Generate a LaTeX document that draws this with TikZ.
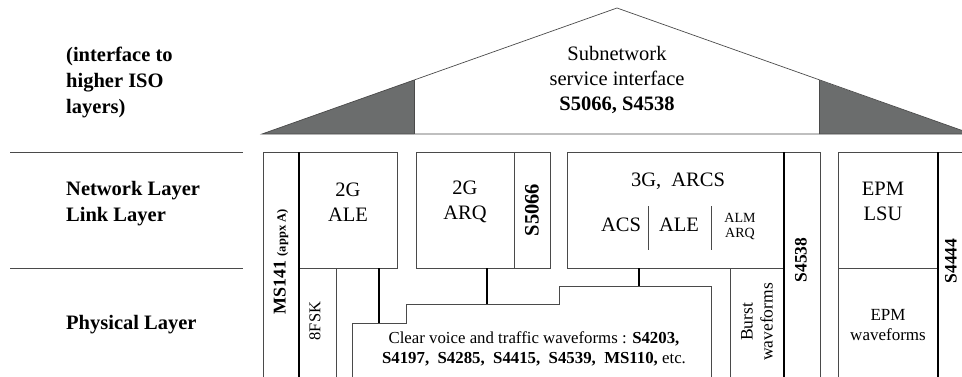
\documentclass[tikz,border=0pt]{standalone}
\usepackage{fontspec}
\setmainfont{Liberation Serif}
\usetikzlibrary{positioning}
\definecolor{roofgray}{HTML}{6B6D6D}
\definecolor{linegray}{HTML}{4A4A4A}

\begin{document}
\begin{tikzpicture}[x=1pt,y=-1pt,
    box/.style={draw=linegray,line width=0.6pt,inner sep=0pt,outer sep=0pt},
    bar/.style={draw=black,line width=1.3pt},
    link/.style={draw=black,line width=1.9pt},
    lbl/.style={font=\fontsize{20.5}{25}\selectfont,align=center,inner sep=0pt},
    small/.style={font=\fontsize{16.8}{19.5}\selectfont,align=center,inner sep=0pt},
    side/.style={font=\bfseries\fontsize{20.5}{26}\selectfont,align=left,anchor=west,inner sep=0pt}]
    \useasboundingbox (0,0) rectangle (962,376);

    % roof
    \fill[roofgray] (262,134) -- (414,80) -- (414,134) -- cycle;
    \fill[roofgray] (819,80) -- (972,134) -- (819,134) -- cycle;
    \draw[linegray,line width=0.7pt] (262,134) -- (617,8) -- (972,134) -- cycle;
    \draw[linegray,line width=0.7pt] (414,80) -- (414,134) (819,80) -- (819,134);
    \node[lbl] (sni) at (617,80) {Subnetwork\\service interface\\\textbf{S5066, S4538}};

    % layer names
    \draw[linegray,line width=0.7pt] (10,152) -- (243,152) (10,268) -- (243,268);
    \node[side] (iso) at (66,82) {(interface to\\higher ISO\\layers)};
    \node[side] (net) at (66,204) {Network Layer\\Link Layer};
    \node[side] (phy) at (66,325) {Physical Layer};

    % boxes
    \node[box,minimum width=36pt,minimum height=228pt] (ms) at (281,266) {};
    \node[box,minimum width=98pt,minimum height=116pt] (ale) at (348,210) {};
    \node[box,minimum width=37pt,minimum height=112pt] (fsk) at (317.5,324) {};
    \node[box,minimum width=98pt,minimum height=116pt] (arq) at (465,210) {};
    \node[box,minimum width=36pt,minimum height=116pt] (s5066) at (532,210) {};
    \node[box,minimum width=217pt,minimum height=116pt] (arcs) at (675.5,210) {};
    \node[box,minimum width=54pt,minimum height=112pt] (burst) at (757,324) {};
    \node[box,minimum width=36pt,minimum height=228pt] (s4538) at (802,266) {};
    \node[box,minimum width=100pt,minimum height=116pt] (lsu) at (888,210) {};
    \node[box,minimum width=100pt,minimum height=112pt] (epmw) at (888,324) {};
    \node[box,minimum width=42pt,minimum height=228pt] (s4444) at (959,266) {};
    \draw[bar] (ale.north west) -- (ms.south east);
    \draw[bar] (arcs.north east) -- (burst.south east);
    \draw[bar] (lsu.north east) -- (epmw.south east);

    % clear voice block
    \coordinate (cv1) at (379,323);
    \coordinate (cv2) at (487,304);
    \coordinate (cv3) at (639,286);
    \draw[linegray,line width=0.6pt] (352,380) |- (406,323) |- (559,304) |- (711,286) -- (711,380);
    \node[small] (cv) at (534,349) {Clear voice and traffic waveforms : \textbf{S4203,}\\
      \textbf{S4197,\ \ S4285,\ \ S4415,\ \ S4539,\ \ MS110,} etc.};

    % labels
    \node[lbl] at (348,202) {2G\\ALE};
    \node[lbl] at (465,202) {2G\\ARQ};
    \node[lbl,rotate=90,font=\bfseries\fontsize{20.5}{25}\selectfont] at (s5066) {S5066};
    \node[lbl] (g3) at (678,181) {3G,\ \ ARCS};
    \node[lbl] (acs) at (621,225) {ACS};
    \node[lbl] (ale3) at (679,225) {ALE};
    \node[lbl,font=\fontsize{14}{15}\selectfont] (alm) at (740,227) {ALM\\ARQ};
    \draw[linegray,line width=0.6pt] (648,206) -- (648,250) (711,206) -- (711,250);
    \node[lbl,rotate=90] at (281,262) {\fontsize{18}{20}\selectfont\bfseries MS141 {\fontsize{12.5}{14}\selectfont(appx A)}};
    \node[small,rotate=90,font=\fontsize{16.5}{19}\selectfont] at (315,321) {8FSK};
    \node[small,rotate=90,font=\fontsize{17.5}{20}\selectfont] at (757,322) {Burst\\waveforms};
    \node[lbl,rotate=90,font=\bfseries\fontsize{17.5}{20}\selectfont] at (801,260) {S4538};
    \node[lbl] at (883,201) {EPM\\LSU};
    \node[small,font=\fontsize{17}{20}\selectfont] at (888,325) {EPM\\waveforms};
    \node[lbl,rotate=90,font=\bfseries\fontsize{17.5}{20}\selectfont] at (951,261) {S4444};

    % links
    \draw[link] (ale.south -| cv1) -- (cv1);
    \draw[link] (arq.south -| cv2) -- (cv2);
    \draw[link] (arcs.south -| cv3) -- (cv3);
\end{tikzpicture}
\end{document}
